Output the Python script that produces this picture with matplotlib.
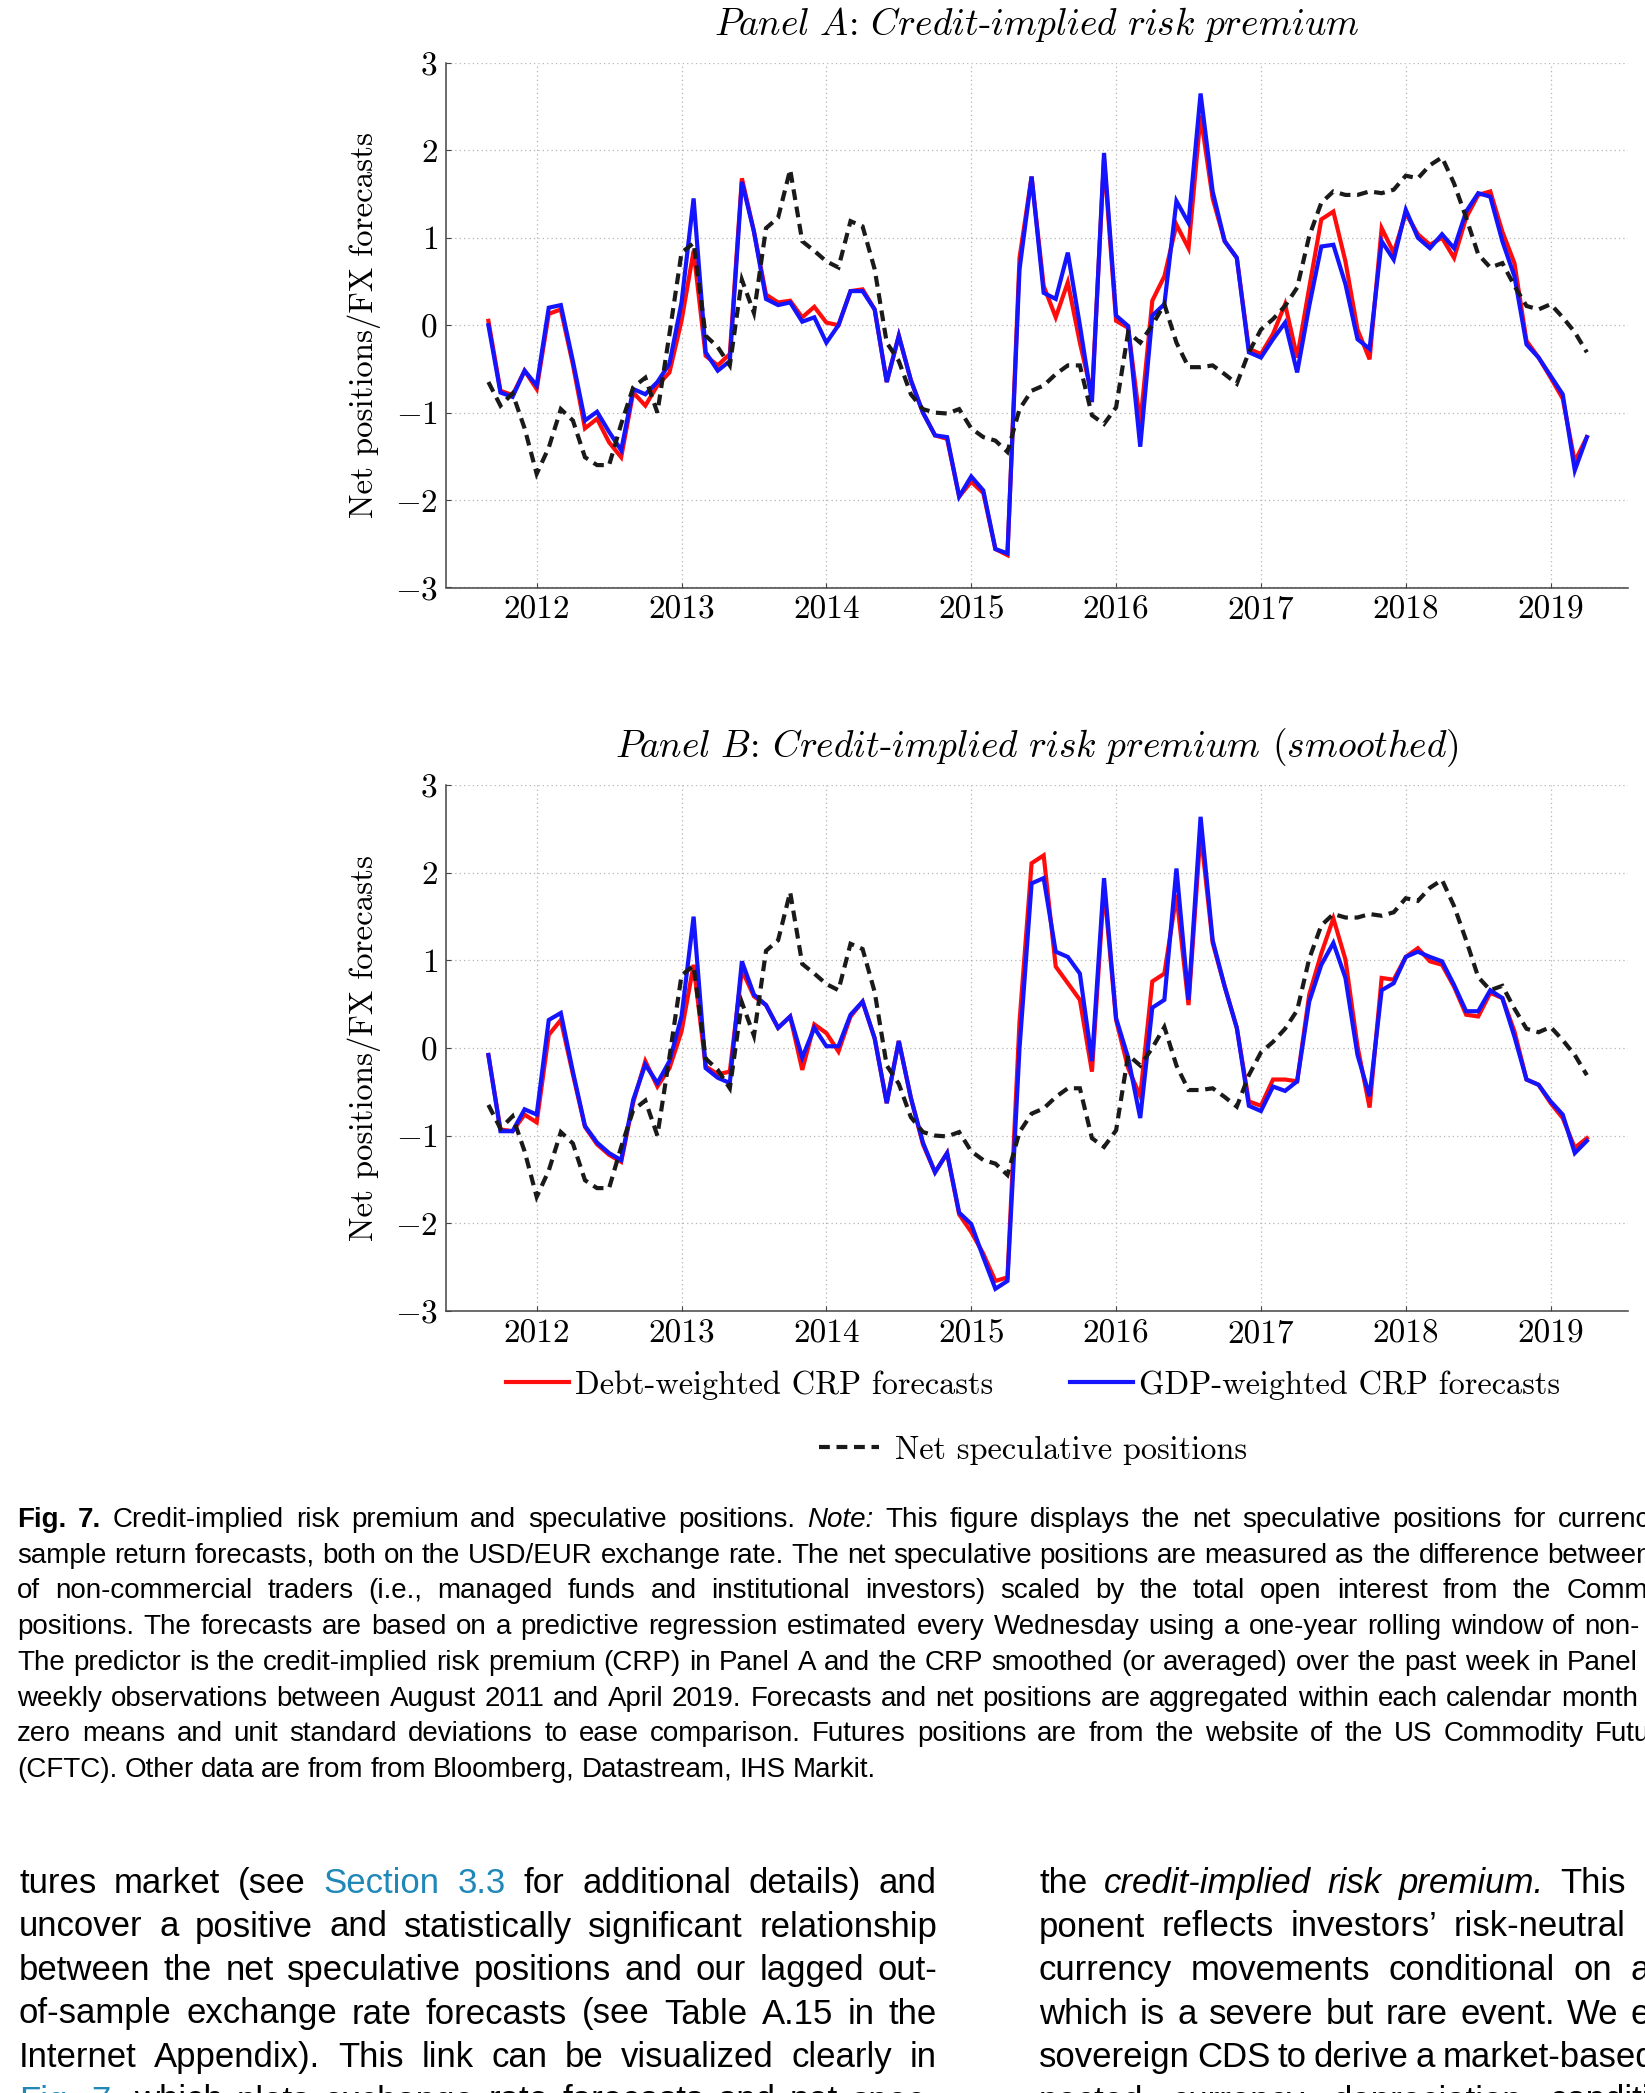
import pandas as pd
import matplotlib
matplotlib.use("Agg")
import matplotlib.pyplot as plt

# monthly observations, Sep 2011 - Apr 2019
months = pd.date_range("2011-09-01", "2019-04-01", freq="MS")
year_ticks = [2012, 2013, 2014, 2015, 2016, 2017, 2018, 2019]
y_ticks = [-3, -2, -1, 0, 1, 2, 3]

net_positions = [
    -0.65, -0.92, -0.78, -1.18, -1.70, -1.40, -0.96, -1.09, -1.51, -1.60,
    -1.60, -1.13, -0.71, -0.60, -1.00, -0.10, 0.83, 0.94, -0.12, -0.25,
    -0.46, 0.52, 0.14, 1.11, 1.23, 1.78, 0.96, 0.85, 0.73, 0.66,
    1.19, 1.13, 0.64, -0.20, -0.41, -0.79, -0.96, -1.00, -1.01, -0.96,
    -1.18, -1.28, -1.32, -1.45, -0.96, -0.75, -0.69, -0.56, -0.46, -0.46,
    -1.03, -1.13, -0.94, -0.08, -0.20, 0.00, 0.24, -0.20, -0.48, -0.48,
    -0.46, -0.56, -0.67, -0.31, -0.05, 0.07, 0.22, 0.43, 1.02, 1.40,
    1.53, 1.49, 1.49, 1.53, 1.51, 1.55, 1.71, 1.68, 1.83, 1.92,
    1.62, 1.23, 0.81, 0.66, 0.71, 0.45, 0.22, 0.18, 0.24, 0.09,
    -0.08, -0.31]

gdp_crp_a = [
    0.00, -0.77, -0.82, -0.52, -0.69, 0.20, 0.23, -0.41, -1.09, -0.99,
    -1.22, -1.43, -0.73, -0.79, -0.65, -0.44, 0.26, 1.45, -0.31, -0.52,
    -0.41, 1.64, 1.07, 0.30, 0.23, 0.26, 0.04, 0.09, -0.20, 0.00,
    0.39, 0.39, 0.18, -0.65, -0.12, -0.63, -1.00, -1.26, -1.28, -1.96,
    -1.73, -1.89, -2.56, -2.61, 0.64, 1.70, 0.37, 0.30, 0.83, 0.00,
    -0.88, 1.97, 0.11, -0.01, -1.39, 0.11, 0.24, 1.42, 1.17, 2.65,
    1.53, 0.96, 0.77, -0.31, -0.37, -0.16, 0.03, -0.54, 0.22, 0.90,
    0.92, 0.47, -0.16, -0.27, 0.96, 0.75, 1.32, 1.00, 0.88, 1.04,
    0.88, 1.30, 1.51, 1.47, 0.96, 0.56, -0.22, -0.37, -0.58, -0.79,
    -1.66, -1.28]

debt_crp_a = [
    0.05, -0.75, -0.80, -0.52, -0.73, 0.13, 0.18, -0.45, -1.18, -1.07,
    -1.34, -1.51, -0.77, -0.92, -0.69, -0.54, 0.05, 0.85, -0.35, -0.46,
    -0.33, 1.68, 1.07, 0.35, 0.26, 0.28, 0.09, 0.21, 0.03, 0.00,
    0.39, 0.41, 0.18, -0.65, -0.12, -0.63, -1.00, -1.26, -1.30, -1.96,
    -1.79, -1.92, -2.56, -2.63, 0.77, 1.70, 0.45, 0.09, 0.49, -0.20,
    -0.80, 1.90, 0.05, -0.03, -1.13, 0.28, 0.56, 1.15, 0.88, 2.40,
    1.45, 0.96, 0.77, -0.27, -0.33, -0.10, 0.24, -0.37, 0.43, 1.21,
    1.30, 0.73, -0.05, -0.39, 1.11, 0.83, 1.28, 1.04, 0.92, 1.00,
    0.77, 1.23, 1.49, 1.53, 1.07, 0.71, -0.18, -0.37, -0.60, -0.84,
    -1.56, -1.28]

gdp_crp_b = [
    -0.08, -0.95, -0.95, -0.70, -0.76, 0.32, 0.40, -0.27, -0.89, -1.08,
    -1.20, -1.28, -0.59, -0.19, -0.40, -0.15, 0.36, 1.50, -0.23, -0.34,
    -0.40, 0.99, 0.61, 0.49, 0.23, 0.36, -0.11, 0.23, 0.02, 0.02,
    0.38, 0.53, 0.11, -0.63, 0.08, -0.57, -1.08, -1.42, -1.20, -1.88,
    -2.01, -2.39, -2.75, -2.66, 0.00, 1.88, 1.94, 1.10, 1.04, 0.85,
    -0.15, 1.94, 0.34, -0.11, -0.80, 0.46, 0.55, 2.05, 0.55, 2.64,
    1.23, 0.70, 0.23, -0.66, -0.72, -0.44, -0.49, -0.38, 0.53, 0.95,
    1.20, 0.80, -0.08, -0.55, 0.66, 0.74, 1.04, 1.10, 1.04, 0.99,
    0.72, 0.42, 0.42, 0.66, 0.57, 0.13, -0.36, -0.42, -0.61, -0.76,
    -1.20, -1.06]

debt_crp_b = [
    -0.08, -0.93, -0.95, -0.76, -0.85, 0.15, 0.32, -0.30, -0.90, -1.10,
    -1.22, -1.30, -0.62, -0.15, -0.44, -0.23, 0.19, 0.95, -0.21, -0.30,
    -0.27, 0.89, 0.59, 0.49, 0.23, 0.36, -0.25, 0.27, 0.17, -0.04,
    0.36, 0.53, 0.11, -0.63, 0.08, -0.57, -1.10, -1.42, -1.20, -1.90,
    -2.10, -2.35, -2.66, -2.62, 0.30, 2.11, 2.20, 0.93, 0.74, 0.55,
    -0.27, 1.84, 0.32, -0.23, -0.55, 0.76, 0.85, 1.75, 0.49, 2.47,
    1.20, 0.70, 0.23, -0.61, -0.66, -0.36, -0.36, -0.38, 0.61, 1.08,
    1.48, 1.01, 0.02, -0.68, 0.80, 0.78, 1.04, 1.14, 0.99, 0.95,
    0.70, 0.38, 0.36, 0.63, 0.57, 0.19, -0.36, -0.42, -0.63, -0.80,
    -1.14, -1.03]

caption = [
    "!Fig. !7. Credit-implied risk premium and speculative positions. *Note: This figure displays the net speculative positions for currenc",
    "sample return forecasts, both on the USD/EUR exchange rate. The net speculative positions are measured as the difference between",
    "of non-commercial traders (i.e., managed funds and institutional investors) scaled by the total open interest from the Comm",
    "positions. The forecasts are based on a predictive regression estimated every Wednesday using a one-year rolling window of non-",
    "The predictor is the credit-implied risk premium (CRP) in Panel A and the CRP smoothed (or averaged) over the past week in Panel",
    "weekly observations between August 2011 and April 2019. Forecasts and net positions are aggregated within each calendar month",
    "zero means and unit standard deviations to ease comparison. Futures positions are from the website of the US Commodity Futu",
    "(CFTC). Other data are from from Bloomberg, Datastream, IHS Markit.",
]
caption_ends = [1650, 1652, 1648, 1640, 1638, 1638, 1650, None]

body_left = [
    "tures market (see #Section #3.3 for additional details) and",
    "uncover a positive and statistically significant relationship",
    "between the net speculative positions and our lagged out-",
    "of-sample exchange rate forecasts (see Table A.15 in the",
    "Internet Appendix). This link can be visualized clearly in",
    "#Fig. #7, which plots exchange rate forecasts and net spec-",
]
body_right = [
    "the *credit-implied *risk *premium. This",
    "ponent reflects investors\u2019 risk-neutral",
    "currency movements conditional on a",
    "which is a severe but rare event. We e",
    "sovereign CDS to derive a market-based",
    "pected currency depreciation conditi",
]
body_right_ends = [1626, 1626, 1650, 1650, 1655, 1650]

W, H = 1645, 2093
plt.rcParams["font.family"] = "serif"
plt.rcParams["font.serif"] = ["cmr10"]
plt.rcParams["mathtext.fontset"] = "cm"
plt.rcParams["axes.formatter.use_mathtext"] = True
body_font = ["Liberation Sans Narrow", "Liberation Sans"]

x = months.year + (months.month - 1) / 12

fig = plt.figure(figsize=(W / 100, H / 100), dpi=100)
axA = fig.add_axes([446 / W, 1 - 587.5 / H, 1182 / W, 524.6 / H])
axB = fig.add_axes([446 / W, 1 - 1310.7 / H, 1182 / W, 525.4 / H])

panels = [
    (axA, debt_crp_a, gdp_crp_a, r"$\mathit{Panel\ A}$: $\mathit{Credit}$-$\mathit{implied\ risk\ premium}$"),
    (axB, debt_crp_b, gdp_crp_b, r"$\mathit{Panel\ B}$: $\mathit{Credit}$-$\mathit{implied\ risk\ premium}$ ($\mathit{smoothed}$)"),
]
for ax, debt, gdp, title in panels:
    l_red, = ax.plot(x, debt, color="#ff0d0d", lw=3, solid_joinstyle="miter",
                     label="Debt-weighted CRP forecasts")
    l_blue, = ax.plot(x, gdp, color="#1414ff", lw=3, solid_joinstyle="miter",
                      label="GDP-weighted CRP forecasts")
    l_net, = ax.plot(x, net_positions, color="#1a1a1a", lw=3, linestyle=(0, (2.6, 1.6)),
                     dash_joinstyle="miter", label="Net speculative positions")
    ax.set_xlim(2011.374, 2019.534)
    ax.set_ylim(-3, 3)
    ax.set_xticks(year_ticks, labels=[str(t) for t in year_ticks])
    ax.set_yticks(y_ticks, labels=[r"$%d$" % t for t in y_ticks])
    ax.grid(True, linestyle=(0, (1, 2.5)), color="#b5b5b5", lw=0.9)
    ax.tick_params(direction="in", length=3.5, width=0.8, color="#444444",
                   labelsize=24, pad=6)
    for s in ["top", "right"]:
        ax.spines[s].set_visible(False)
    for s in ["left", "bottom"]:
        ax.spines[s].set_color("#444444")
        ax.spines[s].set_linewidth(1.1)
    ax.set_ylabel("Net positions/FX forecasts", fontsize=23.6)
    ax.yaxis.set_label_coords(-0.0548, 0.5)
    ax.set_title(title, fontsize=27, pad=20)

fig.legend(handles=[l_red, l_blue], loc="center", bbox_to_anchor=(0.628, 1 - 1385 / H),
           ncol=2, frameon=False, fontsize=23.3, handlelength=1.95, handletextpad=0.2,
           columnspacing=2.35)
fig.legend(handles=[l_net], loc="center", bbox_to_anchor=(0.628, 1 - 1450 / H),
           frameon=False, fontsize=23.3, handlelength=1.85, handletextpad=0.5)


def words_line(s, x0, base, size, x1=None):
    r = fig.canvas.get_renderer()
    arts = []
    for w in s.split():
        kw = {}
        if w[0] == "!":
            w = w[1:]
            kw["fontweight"] = "bold"
        elif w[0] == "*":
            w = w[1:]
            kw["fontstyle"] = "italic"
        elif w[0] == "#":
            w = w[1:]
            kw["color"] = "#1f88b8"
        arts.append(fig.text(0, 0, w, fontsize=size, family=body_font,
                             va="baseline", ha="left", **kw))
    ws = [a.get_window_extent(renderer=r).width for a in arts]
    if x1 is None:
        gap = size * 100 / 72 * 0.25
    else:
        gap = (x1 - x0 - sum(ws)) / (len(arts) - 1)
    pos = x0
    for a, w in zip(arts, ws):
        a.set_position((pos / W, 1 - base / H))
        pos += w + gap


for i, line in enumerate(caption):
    words_line(line, 17, 1527 + 35.7 * i, 20, caption_ends[i])

for i, line in enumerate(body_left):
    words_line(line, 19, 1893 + 43.5 * i, 25, 937)
for i, line in enumerate(body_right):
    words_line(line, 1039, 1893 + 43.5 * i, 25, body_right_ends[i])

fig.savefig("out.png", dpi=100)
